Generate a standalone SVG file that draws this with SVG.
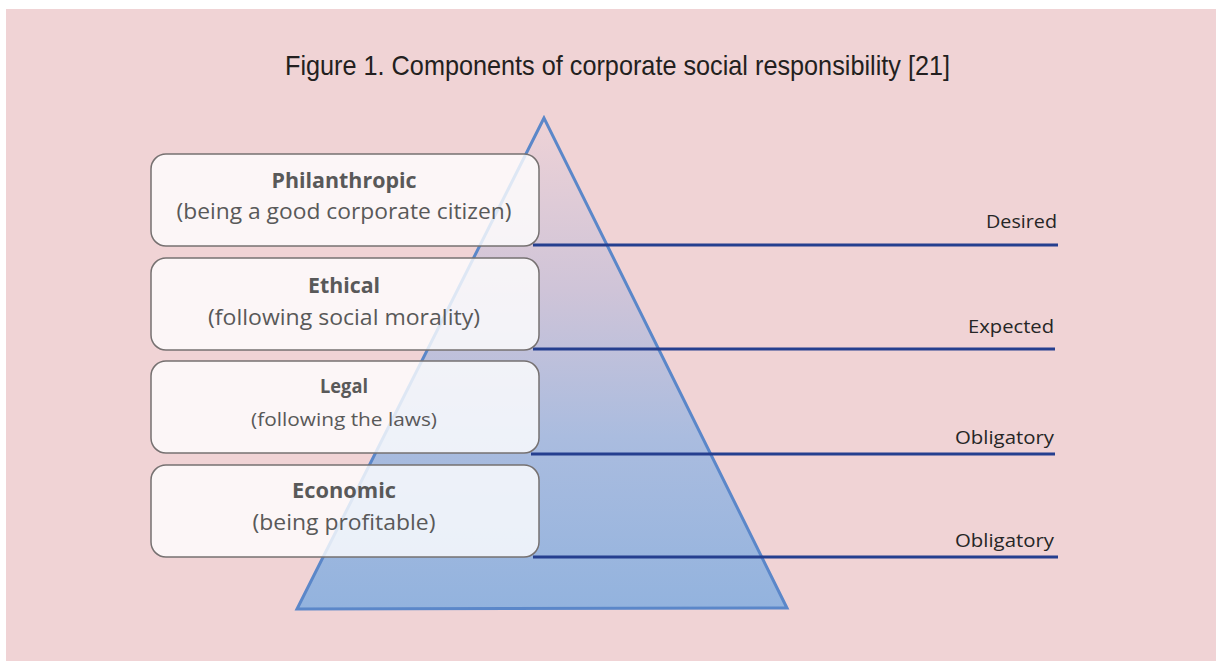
<svg xmlns="http://www.w3.org/2000/svg" width="1216" height="661" viewBox="0 0 1216 661">
<style>
.box{fill:#ffffff;fill-opacity:0.8;stroke:#767171;stroke-width:1.5}
.hd{font-family:"Open Sans","Liberation Sans",sans-serif;font-weight:bold;fill:#595959;text-anchor:middle}
.sb{font-family:"Open Sans","Liberation Sans",sans-serif;fill:#595959;text-anchor:middle}
.lv{font-family:"Open Sans","Liberation Sans",sans-serif;fill:#262626;text-anchor:end;font-size:18px}
.ln{stroke:#253f8f;stroke-width:3;fill:none}
</style>
<defs>
<linearGradient id="pg" x1="0" y1="118" x2="0" y2="609" gradientUnits="userSpaceOnUse">
<stop offset="0" stop-color="#eed2d6"/>
<stop offset="0.35" stop-color="#cfc4d8"/>
<stop offset="0.65" stop-color="#aabcdf"/>
<stop offset="1" stop-color="#93b3de"/>
</linearGradient>
</defs>
<rect x="0" y="0" width="1216" height="661" fill="#ffffff"/>
<rect x="6" y="9" width="1210" height="652" fill="#f0d3d5"/>
<text x="285" y="75" font-family="Liberation Sans,Arial,sans-serif" font-size="28" fill="#231f20" textLength="665" lengthAdjust="spacingAndGlyphs">Figure 1. Components of corporate social responsibility [21]</text>
<g id="pyramid">
<polygon points="544,118 297,609 787,608" fill="url(#pg)" stroke="#5b87c9" stroke-width="3" stroke-linejoin="miter"/>
</g>
<g id="connectors">
<line class="ln" x1="533" y1="245" x2="1058" y2="245"/>
<line class="ln" x1="533" y1="349" x2="1055" y2="349"/>
<line class="ln" x1="531" y1="454" x2="1055" y2="454"/>
<line class="ln" x1="533" y1="557" x2="1058" y2="557"/>
</g>
<g id="philanthropic">
<rect class="box" x="151" y="154" width="388" height="92" rx="15"/>
<text class="hd" x="344" y="188" font-size="21" textLength="145" lengthAdjust="spacingAndGlyphs">Philanthropic</text>
<text class="sb" x="344" y="219" font-size="22" textLength="335" lengthAdjust="spacingAndGlyphs">(being a good corporate citizen)</text>
</g>
<g id="ethical">
<rect class="box" x="151" y="258" width="388" height="92" rx="15"/>
<text class="hd" x="344" y="293" font-size="21" textLength="72" lengthAdjust="spacingAndGlyphs">Ethical</text>
<text class="sb" x="344" y="325" font-size="22" textLength="272" lengthAdjust="spacingAndGlyphs">(following social morality)</text>
</g>
<g id="legal">
<rect class="box" x="151" y="361" width="388" height="92" rx="15"/>
<text class="hd" x="344" y="393" font-size="19" textLength="48" lengthAdjust="spacingAndGlyphs">Legal</text>
<text class="sb" x="344" y="426" font-size="19" textLength="186" lengthAdjust="spacingAndGlyphs">(following the laws)</text>
</g>
<g id="economic">
<rect class="box" x="151" y="465" width="388" height="92" rx="15"/>
<text class="hd" x="344" y="498" font-size="21" textLength="104" lengthAdjust="spacingAndGlyphs">Economic</text>
<text class="sb" x="344" y="530" font-size="22" textLength="183" lengthAdjust="spacingAndGlyphs">(being profitable)</text>
</g>
<g id="labels">
<text class="lv" x="1057" y="228" textLength="71" lengthAdjust="spacingAndGlyphs">Desired</text>
<text class="lv" x="1054" y="333" textLength="86" lengthAdjust="spacingAndGlyphs">Expected</text>
<text class="lv" x="1054" y="444" textLength="99" lengthAdjust="spacingAndGlyphs">Obligatory</text>
<text class="lv" x="1054" y="547" textLength="99" lengthAdjust="spacingAndGlyphs">Obligatory</text>
</g>
</svg>
